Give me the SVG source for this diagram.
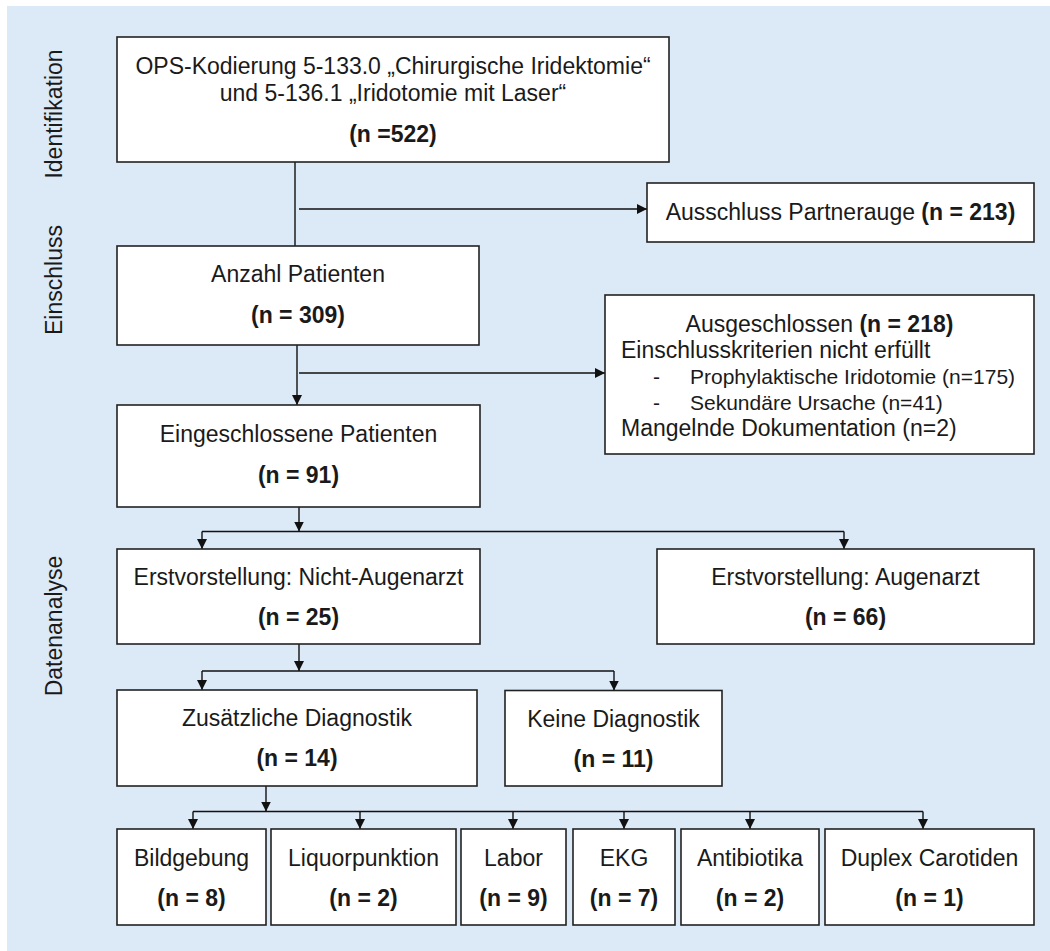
<svg xmlns="http://www.w3.org/2000/svg" width="1050" height="951" viewBox="0 0 1050 951">
<style>
  text { font-family: "Liberation Sans", Arial, sans-serif; font-size: 23px; fill: #1a1a1a; }
  .b { font-weight: bold; }
  .c { text-anchor: middle; }
  .sm { font-size: 21px; }
  .box { fill: #ffffff; stroke: #222222; stroke-width: 1.6; }
  .ln { stroke: #111111; stroke-width: 1.4; fill: none; }
  .ar { stroke: #111111; stroke-width: 1.4; fill: none; marker-end: url(#ah); }
</style>
<defs>
  <marker id="ah" markerUnits="userSpaceOnUse" markerWidth="11" markerHeight="11" refX="10" refY="5" orient="auto">
    <path d="M0,0 L10,5 L0,10 z" fill="#111111"/>
  </marker>
</defs>
<rect x="7" y="6" width="1043" height="945" fill="#dce9f6"/>
<g id="side-labels">
  <text class="c" transform="translate(61.5,114) rotate(-90)">Identifikation</text>
  <text class="c" transform="translate(61.5,280) rotate(-90)">Einschluss</text>
  <text class="c" transform="translate(61.5,626) rotate(-90)">Datenanalyse</text>
</g>
<g id="connectors">
  <line class="ln" x1="295" y1="162" x2="295" y2="246"/>
  <line class="ar" x1="299" y1="209" x2="647" y2="209"/>
  <line class="ar" x1="297" y1="345" x2="297" y2="405"/>
  <line class="ar" x1="299" y1="373" x2="605" y2="373"/>
  <line class="ar" x1="299" y1="507" x2="299" y2="531.5"/>
  <line class="ln" x1="202" y1="531.5" x2="844" y2="531.5"/>
  <line class="ar" x1="202" y1="531.5" x2="202" y2="549"/>
  <line class="ar" x1="844" y1="531.5" x2="844" y2="549"/>
  <line class="ar" x1="299" y1="644" x2="299" y2="671"/>
  <line class="ln" x1="202" y1="671" x2="614" y2="671"/>
  <line class="ar" x1="202" y1="671" x2="202" y2="690"/>
  <line class="ar" x1="614" y1="671" x2="614" y2="690.5"/>
  <line class="ar" x1="266" y1="786" x2="266" y2="811.5"/>
  <line class="ln" x1="193" y1="811.5" x2="923" y2="811.5"/>
  <line class="ar" x1="193" y1="811.5" x2="193" y2="829"/>
  <line class="ar" x1="360" y1="811.5" x2="360" y2="829"/>
  <line class="ar" x1="513" y1="811.5" x2="513" y2="829"/>
  <line class="ar" x1="624" y1="811.5" x2="624" y2="829"/>
  <line class="ar" x1="750" y1="811.5" x2="750" y2="829"/>
  <line class="ar" x1="923" y1="811.5" x2="923" y2="829"/>
</g>
<g id="n-ops">
  <rect class="box" x="117" y="37" width="552" height="125"/>
  <text class="c" x="393" y="74">OPS-Kodierung 5-133.0 „Chirurgische Iridektomie“</text>
  <text class="c" x="393" y="101">und 5-136.1 „Iridotomie mit Laser“</text>
  <text class="c b" x="393" y="142">(n =522)</text>
</g>
<g id="n-partnerauge">
  <rect class="box" x="647" y="183" width="387" height="59"/>
  <text class="c" x="840.5" y="220">Ausschluss Partnerauge <tspan class="b">(n = 213)</tspan></text>
</g>
<g id="n-anzahl">
  <rect class="box" x="117" y="246" width="362" height="99"/>
  <text class="c" x="298" y="282">Anzahl Patienten</text>
  <text class="c b" x="298" y="323">(n = 309)</text>
</g>
<g id="n-ausgeschlossen">
  <rect class="box" x="605" y="295" width="429" height="159"/>
  <text class="c" x="819.5" y="332">Ausgeschlossen <tspan class="b">(n = 218)</tspan></text>
  <text x="621" y="358">Einschlusskriterien nicht erfüllt</text>
  <text class="sm" x="653" y="384">-</text>
  <text class="sm" x="690" y="384">Prophylaktische Iridotomie (n=175)</text>
  <text class="sm" x="653" y="410">-</text>
  <text class="sm" x="690" y="410">Sekundäre Ursache (n=41)</text>
  <text x="621" y="436">Mangelnde Dokumentation (n=2)</text>
</g>
<g id="n-eingeschlossen">
  <rect class="box" x="117" y="405" width="363" height="102"/>
  <text class="c" x="298.5" y="442">Eingeschlossene Patienten</text>
  <text class="c b" x="298.5" y="483">(n = 91)</text>
</g>
<g id="n-nicht-augenarzt">
  <rect class="box" x="117" y="549" width="363" height="95"/>
  <text class="c" x="298.5" y="585">Erstvorstellung: Nicht-Augenarzt</text>
  <text class="c b" x="298.5" y="625">(n = 25)</text>
</g>
<g id="n-augenarzt">
  <rect class="box" x="657" y="549" width="377" height="95"/>
  <text class="c" x="845.5" y="585">Erstvorstellung: Augenarzt</text>
  <text class="c b" x="845.5" y="625">(n = 66)</text>
</g>
<g id="n-zusaetzlich">
  <rect class="box" x="117" y="690" width="360" height="96"/>
  <text class="c" x="297" y="726">Zusätzliche Diagnostik</text>
  <text class="c b" x="297" y="766">(n = 14)</text>
</g>
<g id="n-keine">
  <rect class="box" x="505" y="690.5" width="217" height="95.5"/>
  <text class="c" x="613.5" y="727">Keine Diagnostik</text>
  <text class="c b" x="613.5" y="767">(n = 11)</text>
</g>
<g id="n-bildgebung">
  <rect class="box" x="117" y="829" width="149" height="96"/>
  <text class="c" x="191.5" y="866">Bildgebung</text>
  <text class="c b" x="191.5" y="906">(n = 8)</text>
</g>
<g id="n-liquor">
  <rect class="box" x="271" y="829" width="185" height="96"/>
  <text class="c" x="363.5" y="866">Liquorpunktion</text>
  <text class="c b" x="363.5" y="906">(n = 2)</text>
</g>
<g id="n-labor">
  <rect class="box" x="461" y="829" width="105" height="96"/>
  <text class="c" x="513.5" y="866">Labor</text>
  <text class="c b" x="513.5" y="906">(n = 9)</text>
</g>
<g id="n-ekg">
  <rect class="box" x="573" y="829" width="102" height="96"/>
  <text class="c" x="624" y="866">EKG</text>
  <text class="c b" x="624" y="906">(n = 7)</text>
</g>
<g id="n-antibiotika">
  <rect class="box" x="681" y="829" width="138" height="96"/>
  <text class="c" x="750" y="866">Antibiotika</text>
  <text class="c b" x="750" y="906">(n = 2)</text>
</g>
<g id="n-duplex">
  <rect class="box" x="825" y="829" width="209" height="96"/>
  <text class="c" x="929.5" y="866">Duplex Carotiden</text>
  <text class="c b" x="929.5" y="906">(n = 1)</text>
</g>
</svg>
